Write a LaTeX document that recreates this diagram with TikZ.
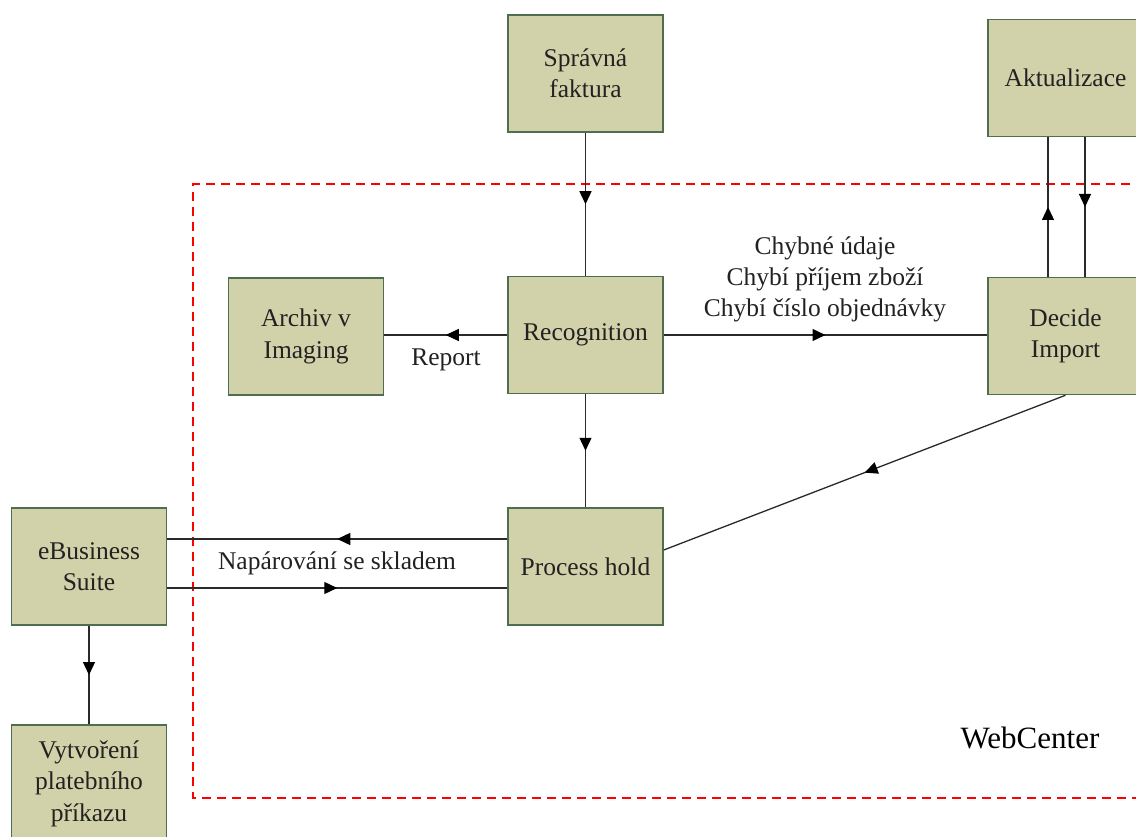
\documentclass[tikz,border=0pt]{standalone}
\usepackage{fontspec}
\setmainfont{Liberation Serif}
\usetikzlibrary{decorations.markings,arrows.meta,calc}
\definecolor{boxfill}{HTML}{D2D2AA}
\definecolor{boxline}{HTML}{4F6E4F}
\definecolor{linecol}{HTML}{2A2A2A}
\definecolor{txt}{HTML}{222222}
\tikzset{
  procbox/.style={draw=boxline, line width=1.5pt, fill=boxfill, minimum width=155pt, minimum height=117pt, inner sep=0pt, align=center, text=txt, font=\fontsize{25.5}{31.5}\selectfont},
  conn/.style={draw=linecol, line width=1.3pt},
  midarrow/.style={conn, postaction={decorate}, decoration={markings, mark=at position 0.5 with {\arrow[fill=black,draw=black]{Triangle[length=13pt,width=12pt]}}}},
  lbl/.style={text=txt, align=center, inner sep=0pt, font=\fontsize{25.5}{31}\selectfont},
  zone/.style={draw=red, line width=1.8pt, dash pattern=on 9pt off 6pt}
}
\begin{document}
\begin{tikzpicture}[x=1pt,y=-1pt]
\clip (0,0) rectangle (1136,837);
\fill[white] (0,0) rectangle (1136,837);
% zone
\draw[zone] (1160,184) -- (193,184) -- (193,798) -- (1160,798);
% nodes
\node[procbox] (sf) at (585.5,73.5) {Správná\\faktura};
\node[procbox] (ak) at (1065.5,78) {Aktualizace};
\node[procbox] (ar) at (306,336.5) {Archiv v\\Imaging};
\node[procbox] (rc) at (585.5,335) {Recognition};
\node[procbox] (di) at (1065.5,336) {Decide\\Import};
\node[procbox] (eb) at (89,566.5) {eBusiness\\Suite};
\node[procbox] (ph) at (585.5,566.5) {Process hold};
\node[procbox] (vp) at (89,783.5) {Vytvoření\\platebního\\příkazu};
% connectors
\draw[midarrow] (sf.south) -- (rc.north);
\draw[midarrow] (rc.west) -- (rc.west -| ar.east);
\draw[midarrow] (rc.east) -- (rc.east -| di.west);
\draw[midarrow] (rc.south) -- (rc.south |- ph.north);
\draw[midarrow] (di.south) -- ([yshift=16.5pt]ph.east);
\draw[midarrow] ([xshift=-17.5pt]di.north) -- ([xshift=-17.5pt]ak.south);
\draw[midarrow] ([xshift=19.5pt]ak.south) -- ([xshift=19.5pt]di.north);
\draw[midarrow] ([yshift=27.5pt]ph.west) -- ([yshift=27.5pt]eb.east);
\draw[midarrow] ([yshift=-21.5pt]eb.east) -- ([yshift=-21.5pt]ph.west);
\draw[midarrow] (eb.south) -- (vp.north);
% labels
\node[lbl] (lreport) at (446,360) {Report};
\node[lbl] (lchyb) at (825,279) {Chybné údaje\\Chybí příjem zboží\\Chybí číslo objednávky};
\node[lbl] (lnap) at (337,563) {Napárování se skladem};
\node[lbl, font=\fontsize{31}{37}\selectfont, text=black] (lweb) at (1030,738) {WebCenter};
\end{tikzpicture}
\end{document}
